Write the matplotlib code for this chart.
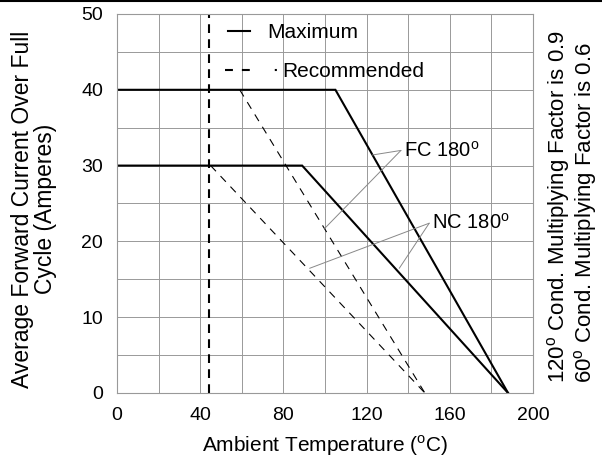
import matplotlib
matplotlib.use('Agg')
import matplotlib.pyplot as plt
from matplotlib.lines import Line2D

plt.rcParams['font.family'] = ['Liberation Sans', 'DejaVu Sans']
plt.rcParams['mathtext.fontset'] = 'custom'
plt.rcParams['mathtext.rm'] = 'Liberation Sans'

# derating curves (ambient temp in C, current in A)
max_fc_temp = [0, 105, 188]
max_fc_amps = [40, 40, 0]
max_nc_temp = [0, 89, 188]
max_nc_amps = [30, 30, 0]
rec_fc_temp = [59, 148]
rec_fc_amps = [40, 0]
rec_nc_temp = [45, 148]
rec_nc_amps = [30, 0]
ambient_limit = 44

x_ticks = [0, 40, 80, 120, 160, 200]
y_ticks = [0, 10, 20, 30, 40, 50]

# callout anchors: (text point, [targets])
fc_callout = (136.5, 32.0)
fc_targets = [(122.8, 31.4), (99.8, 21.7)]
nc_callout = (150.1, 22.4)
nc_targets = [(92.6, 16.45), (135.7, 16.45)]

FS = 14

fig = plt.figure(figsize=(6.02, 4.62), dpi=100)
ax = fig.add_axes([0.1944, 0.1494, 0.8854 - 0.1944, 0.9697 - 0.1494])

ax.plot(max_fc_temp, max_fc_amps, color='black', lw=1.5, solid_joinstyle='miter')
ax.plot(max_nc_temp, max_nc_amps, color='black', lw=1.5, solid_joinstyle='miter')
ax.plot(rec_fc_temp, rec_fc_amps, color='black', lw=0.8, dashes=(7, 6))
ax.plot(rec_nc_temp, rec_nc_amps, color='black', lw=0.8, dashes=(7, 6))
ax.axvline(ambient_limit, color='black', lw=1.5, dashes=(4.2, 3.0))

for (x, y) in fc_targets:
    ax.annotate('', xy=(x, y), xytext=fc_callout,
                arrowprops=dict(arrowstyle='-', color='#888888', lw=0.7,
                                shrinkA=0, shrinkB=0))
for (x, y) in nc_targets:
    ax.annotate('', xy=(x, y), xytext=nc_callout,
                arrowprops=dict(arrowstyle='-', color='#888888', lw=0.7,
                                shrinkA=0, shrinkB=0))
ax.text(fc_callout[0] + 1.5, fc_callout[1], r'FC 180$^{\mathrm{o}}$', fontsize=14.5,
        ha='left', va='center')
ax.text(nc_callout[0] + 1.5, nc_callout[1], r'NC 180$^{\mathrm{o}}$', fontsize=14.5,
        ha='left', va='center')

ax.set_xlim(0, 200)
ax.set_ylim(0, 50)
ax.set_xticks(x_ticks)
ax.set_yticks(y_ticks)
ax.set_xticks(range(0, 201, 20), minor=True)
ax.set_yticks(range(0, 51, 5), minor=True)
ax.grid(which='both', color='#999999', lw=0.7)
ax.set_axisbelow(True)
ax.tick_params(which='both', length=0, labelsize=FS, pad=10)
for s in ax.spines.values():
    s.set_color('#999999')
    s.set_linewidth(0.8)

ax.set_xlabel(r'Ambient Temperature ($^{\mathrm{o}}$C)', fontsize=15, labelpad=7)

# legend, two pieces so handle lengths match the original
h1 = Line2D([], [], color='black', lw=1.5)
h2 = Line2D([], [], color='black', lw=1.5, dashes=(3.8, 4.3, 3.8, 12, 1, 1))
leg1 = ax.legend([h1], ['Maximum'], loc='center left', bbox_to_anchor=(0.267, 0.951),
                 frameon=False, fontsize=15, borderpad=0, borderaxespad=0,
                 handlelength=1.05, handletextpad=0.85)
ax.add_artist(leg1)
ax.legend([h2], ['Recommended'], loc='center left', bbox_to_anchor=(0.26, 0.848),
          frameon=False, fontsize=15, borderpad=0, borderaxespad=0,
          handlelength=2.5, handletextpad=0.22)

fig.text(34 / 602, 1 - 209 / 462, 'Average Forward Current Over Full\nCycle (Amperes)',
         rotation=90, ha='center', va='center', multialignment='center', fontsize=16.5,
         linespacing=0.95)
fig.text(572 / 602, 1 - 207 / 462,
         '120$^{\\mathrm{o}}$ Cond. Multiplying Factor is 0.9\n'
         '60$^{\\mathrm{o}}$ Cond. Multiplying Factor is 0.6',
         rotation=90, ha='center', va='center', multialignment='left', fontsize=16,
         linespacing=0.95)

fig.add_artist(Line2D([0, 1], [0.997, 0.997], transform=fig.transFigure,
                      color='black', lw=1.5))

fig.savefig('out.png', dpi=100)
